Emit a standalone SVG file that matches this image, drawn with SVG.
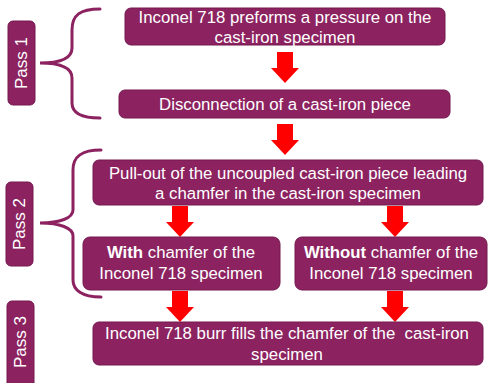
<svg xmlns="http://www.w3.org/2000/svg" width="490" height="383" viewBox="0 0 490 383">
<style>
.box{fill:#8c2360;stroke:#74184f;stroke-width:1}
.t{font-family:"Liberation Sans",Arial,sans-serif;font-size:16.8px;fill:#ffffff;text-anchor:middle;white-space:pre}
.p{font-size:17px}
.b{font-weight:bold}
.brace{fill:none;stroke:#8c2360;stroke-width:3;stroke-linecap:round}
.arrow{fill:#ff0000}
</style>
<defs>
<path id="arr" d="M-8,0 H8 V16 H14 L0,31 L-14,16 H-8 Z"/>
</defs>
<g id="connectors">
<path class="brace" d="M100,9 C80,9 72,15 72,30 L72,48 C72,58 60,63 40,63 C60,63 72,68 72,78 L72,103 C72,112 80,118 100,118"/>
<path class="brace" d="M101,150 C82,150 73,156 73,170 L73,210 C73,218 60,223 40,223 C60,223 73,228 73,236 L73,280 C73,290 82,297 101,297"/>
<use href="#arr" class="arrow" x="285" y="52"/>
<use href="#arr" class="arrow" x="285" y="124"/>
<use href="#arr" class="arrow" x="180" y="206"/>
<use href="#arr" class="arrow" x="395" y="206"/>
<use href="#arr" class="arrow" x="180" y="291"/>
<use href="#arr" class="arrow" x="395" y="291"/>
</g>
<g id="pass1">
<rect class="box" x="8" y="21" width="27" height="84" rx="5"/>
<text class="t p" transform="translate(27,63) rotate(-90)">Pass 1</text>
</g>
<g id="pass2">
<rect class="box" x="6" y="182" width="27" height="84" rx="5"/>
<text class="t p" transform="translate(25,224) rotate(-90)">Pass 2</text>
</g>
<g id="pass3">
<rect class="box" x="7" y="301" width="27" height="90" rx="5"/>
<text class="t p" transform="translate(26,342) rotate(-90)">Pass 3</text>
</g>
<g id="n1">
<rect class="box" x="125" y="8" width="320" height="37" rx="6"/>
<text class="t" x="285" y="23">Inconel 718 preforms a pressure on the</text>
<text class="t" x="285" y="43">cast-iron specimen</text>
</g>
<g id="n2">
<rect class="box" x="119" y="90" width="331" height="28" rx="6"/>
<text class="t" x="285" y="110">Disconnection of a cast-iron piece</text>
</g>
<g id="n3">
<rect class="box" x="93" y="160" width="390" height="45" rx="6"/>
<text class="t" x="288" y="179">Pull-out of the uncoupled cast-iron piece leading</text>
<text class="t" x="288" y="199">a chamfer in the cast-iron specimen</text>
</g>
<g id="n4">
<rect class="box" x="83" y="237" width="197" height="53" rx="7"/>
<text class="t" x="181" y="258"><tspan class="b">With</tspan> chamfer of the</text>
<text class="t" x="181" y="279">Inconel 718 specimen</text>
</g>
<g id="n5">
<rect class="box" x="295" y="237" width="192" height="53" rx="7"/>
<text class="t" x="391" y="258"><tspan class="b">Without</tspan> chamfer of the</text>
<text class="t" x="391" y="279">Inconel 718 specimen</text>
</g>
<g id="n6">
<rect class="box" x="93" y="322" width="390" height="43" rx="6"/>
<text class="t" x="287" y="339">Inconel 718 burr fills the chamfer of the  cast-iron</text>
<text class="t" x="287" y="360">specimen</text>
</g>
</svg>
